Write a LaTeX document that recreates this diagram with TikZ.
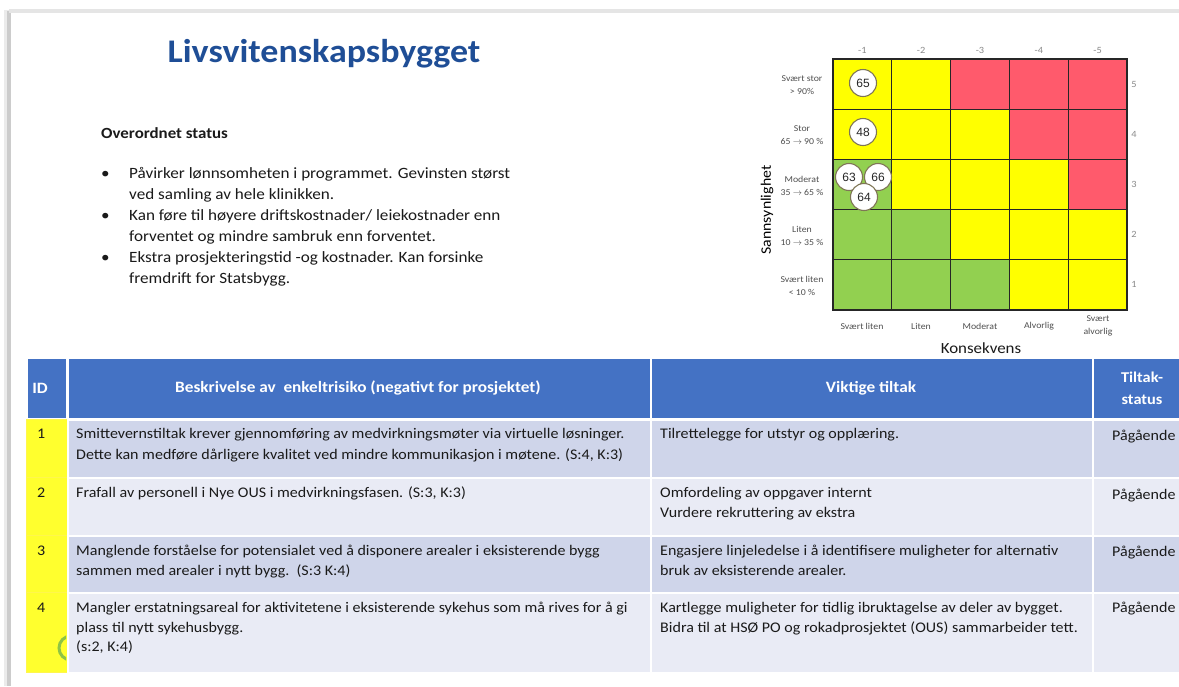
\documentclass[tikz,border=0pt]{standalone}
\usepackage{fontspec}
\setmainfont{Carlito}[FakeStretch=1.09]
\newfontfamily\arialf{Liberation Sans}
\definecolor{hdr}{HTML}{4472C4}
\definecolor{rowdark}{HTML}{CFD5EA}
\definecolor{rowlight}{HTML}{E9EBF5}
\definecolor{titleblue}{HTML}{1F4E96}
\definecolor{mred}{HTML}{FF5A6C}
\definecolor{mgreen}{HTML}{92D050}
\definecolor{myellow}{HTML}{FFFF00}
\definecolor{idyellow}{HTML}{FFFF2E}
\definecolor{txt}{HTML}{1A1A1A}
\definecolor{lab}{HTML}{505050}
\definecolor{lab2}{HTML}{8A8A8A}
\definecolor{ring}{HTML}{7F7656}
\begin{document}
\begin{tikzpicture}[x=1pt,y=-1pt,
  mcell/.style={draw=black!85, line width=1.1pt, minimum width=58.8pt, minimum height=50.2pt, inner sep=0pt},
  bub/.style={circle, draw=ring, line width=1.1pt, fill=white, minimum size=27pt, inner sep=0pt, font=\arialf\fontsize{12}{12}\selectfont, text=black!85},
  tcell/.style={anchor=north west, draw=white, line width=1.8pt, inner sep=0pt},
  idcell/.style={anchor=north west, fill=idyellow, draw=yellow!70!white, line width=0.8pt, inner sep=0pt},
  body/.style={anchor=base west, inner sep=0pt, font=\fontsize{14.7}{16}\selectfont, text=txt},
  hdrtxt/.style={inner sep=0pt, font=\bfseries\fontsize{15.8}{18}\selectfont, text=white, align=center},
  blt/.style={anchor=base west, inner sep=0pt, font=\fontsize{15.7}{18}\selectfont, text=txt},
  mlab/.style={inner sep=0pt, font=\fontsize{9}{12.5}\selectfont, text=lab, align=center},
  mnum/.style={inner sep=0pt, font=\fontsize{9.5}{10}\selectfont, text=lab2},
]
\useasboundingbox (0,0) rectangle (1179,686);
\fill[white] (0,0) rectangle (1179,686);
% slide frame
\fill[black!8] (4,10) rectangle (13,686);
\fill[black!20] (7,11) rectangle (11,686);
\fill[black!10] (9,9) rectangle (1179,13);
\fill[white] (11,13) rectangle (1179,686);

% title and status text
\node[inner sep=0pt, font=\bfseries\fontsize{33}{40}\selectfont, text=titleblue] (title) at (324,54) {Livsvitenskapsbygget};
\node[anchor=base west, inner sep=0pt, font=\bfseries\fontsize{15.5}{18}\selectfont, text=txt] (ostat) at (101,138) {Overordnet status};
\node[blt] (b1) at (101,178) {\textbullet};
\node[blt] (b2) at (101,220) {\textbullet};
\node[blt] (b3) at (101,262) {\textbullet};
\node[blt] (l1) at (129,178) {Påvirker lønnsomheten i programmet. Gevinsten størst};
\node[blt] (l2) at (129,199) {ved samling av hele klinikken.};
\node[blt] (l3) at (129,220) {Kan føre til høyere driftskostnader/ leiekostnader enn};
\node[blt] (l4) at (129,241) {forventet og mindre sambruk enn forventet.};
\node[blt] (l5) at (129,262) {Ekstra prosjekteringstid -og kostnader. Kan forsinke};
\node[blt] (l6) at (129,283) {fremdrift for Statsbygg.};

% risk matrix
\def\mx{833}\def\my{59}\def\cw{58.8}\def\rh{50.2}
\foreach \r/\cols in {1/{myellow,myellow,mred,mred,mred},
                      2/{myellow,myellow,myellow,mred,mred},
                      3/{mgreen,myellow,myellow,myellow,mred},
                      4/{mgreen,mgreen,myellow,myellow,myellow},
                      5/{mgreen,mgreen,mgreen,myellow,myellow}}{
  \foreach \col [count=\c] in \cols {
    \node[mcell, fill=\col] (m-\r-\c) at ({\mx+(\c-0.5)*\cw},{\my+(\r-0.5)*\rh}) {};
  }
}
% column numbers and row numbers
\foreach \c in {1,...,5}{
  \node[mnum] (top\c) at ({\mx+(\c-0.5)*\cw},50) {-\c};
}
\foreach \r/\n in {1/5,2/4,3/3,4/2,5/1}{
  \node[mnum] (rn\r) at (1134,{\my+(\r-0.5)*\rh}) {\n};
}
% row labels
\node[mlab] (rl1) at (802,85) {Svært stor\\> 90\%};
\node[mlab] (rl2) at (802,135) {Stor\\65 $\rightarrow$ 90 \%};
\node[mlab] (rl3) at (802,186) {Moderat\\35 $\rightarrow$ 65 \%};
\node[mlab] (rl4) at (802,236) {Liten\\10 $\rightarrow$ 35 \%};
\node[mlab] (rl5) at (802,286) {Svært liten\\< 10 \%};
% column labels
\node[mlab] (cl1) at (862,326) {Svært liten};
\node[mlab] (cl2) at (921,326) {Liten};
\node[mlab] (cl3) at (980,326) {Moderat};
\node[mlab] (cl4) at (1039,326) {Alvorlig};
\node[mlab] (cl5) at (1098,326) {Svært\\alvorlig};
\node[inner sep=0pt, font=\fontsize{15.5}{18}\selectfont, text=txt] (kons) at (981,348) {Konsekvens};
\node[inner sep=0pt, rotate=90, font=\fontsize{14.5}{18}\selectfont, text=black] (sann) at (767,210) {Sannsynlighet};
% bubbles
\node[bub] (r65) at (863,83) {65};
\node[bub] (r48) at (863,132) {48};
\node[bub] (r63) at (849,177) {63};
\node[bub] (r66) at (878,177) {66};
\node[bub] (r64) at (864,197) {64};

% table header
\node[tcell, fill=hdr, minimum width=40pt, minimum height=61pt] (h-id) at (26,357) {};
\node[tcell, fill=hdr, minimum width=583pt, minimum height=61pt] (h-desc) at (67,357) {};
\node[tcell, fill=hdr, minimum width=442pt, minimum height=61pt] (h-tilt) at (650,357) {};
\node[tcell, fill=hdr, minimum width=90pt, minimum height=61pt] (h-stat) at (1092,357) {};
\node[hdrtxt] (ht1) at (40,388) {ID};
\node[hdrtxt] (ht2) at (358,388) {Beskrivelse av\ \ enkeltrisiko (negativt for prosjektet)};
\node[hdrtxt] (ht3) at (871,388) {Viktige tiltak};
\node[hdrtxt, font=\bfseries\fontsize{15}{18}\selectfont] (ht4a) at (1142,377) {Tiltak-};
\node[hdrtxt, font=\bfseries\fontsize{15}{18}\selectfont] (ht4b) at (1142,400) {status};

% table rows
\foreach \r/\t/\h/\f in {1/419/58/rowdark,2/477/58/rowlight,3/535/57/rowdark,4/592/80/rowlight}{
  \node[idcell, minimum width=41pt, minimum height=\h pt] (id\r) at (26,\t) {};
  \node[tcell, fill=\f, minimum width=583pt, minimum height=\h pt] (d\r) at (67,\t) {};
  \node[tcell, fill=\f, minimum width=442pt, minimum height=\h pt] (t\r) at (650,\t) {};
  \node[tcell, fill=\f, minimum width=90pt, minimum height=\h pt] (s\r) at (1092,\t) {};
}
% green arc fragment in ID cell 4
\begin{scope}
  \clip (26,593) rectangle (66,671);
  \draw[mgreen!85!olive, line width=3pt] (71,648) circle (12);
\end{scope}

% ID numbers
\node[body] (n1) at (37,438) {1};
\node[body] (n2) at (37,497) {2};
\node[body] (n3) at (37,555) {3};
\node[body] (n4) at (37,612) {4};
% descriptions
\node[body] (d1a) at (76,438) {Smittevernstiltak krever gjennomføring av medvirkningsmøter via virtuelle løsninger.};
\node[body] (d1b) at (76,459) {Dette kan medføre dårligere kvalitet ved mindre kommunikasjon i møtene. (S:4, K:3)};
\node[body] (d2a) at (76,497) {Frafall av personell i Nye OUS i medvirkningsfasen. (S:3, K:3)};
\node[body] (d3a) at (76,555) {Manglende forståelse for potensialet ved å disponere arealer i eksisterende bygg};
\node[body] (d3b) at (76,575) {sammen med arealer i nytt bygg.\ \ (S:3 K:4)};
\node[body] (d4a) at (76,612) {Mangler erstatningsareal for aktivitetene i eksisterende sykehus som må rives for å gi};
\node[body] (d4b) at (76,632) {plass til nytt sykehusbygg.};
\node[body] (d4c) at (76,651) {(s:2, K:4)};
% measures
\node[body] (t1a) at (660,438) {Tilrettelegge for utstyr og opplæring.};
\node[body] (t2a) at (660,497) {Omfordeling av oppgaver internt};
\node[body] (t2b) at (660,517) {Vurdere rekruttering av ekstra};
\node[body] (t3a) at (660,555) {Engasjere linjeledelse i å identifisere muligheter for alternativ};
\node[body] (t3b) at (660,575) {bruk av eksisterende arealer.};
\node[body] (t4a) at (660,612) {Kartlegge muligheter for tidlig ibruktagelse av deler av bygget.};
\node[body] (t4b) at (660,632) {Bidra til at HSØ PO og rokadprosjektet (OUS) sammarbeider tett.};
% status
\node[body] (s1t) at (1112,440) {Pågående};
\node[body] (s2t) at (1112,499) {Pågående};
\node[body] (s3t) at (1112,556) {Pågående};
\node[body] (s4t) at (1112,612) {Pågående};
\end{tikzpicture}
\end{document}
